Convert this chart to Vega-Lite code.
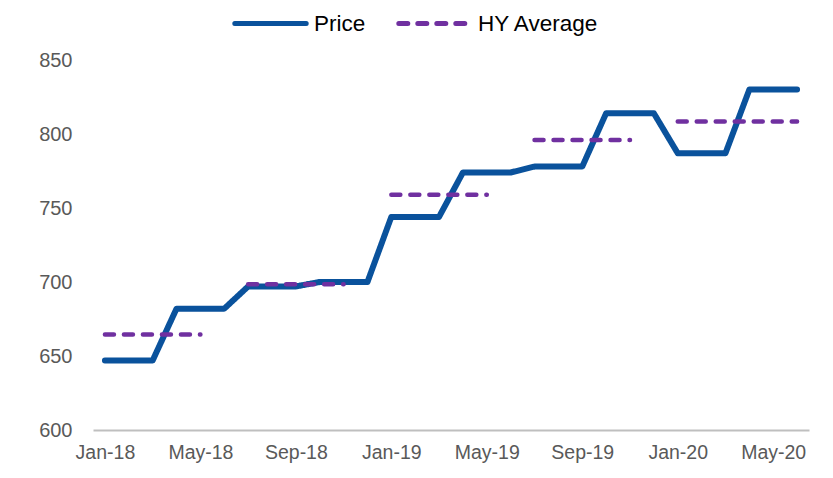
{
  "$schema": "https://vega.github.io/schema/vega-lite/v6.json",
  "width": 716,
  "height": 370,
  "autosize": {"type": "none"},
  "padding": {"left": 93, "top": 60, "right": 24, "bottom": 48},
  "background": "white",
  "config": {
    "view": {"stroke": null},
    "font": "Liberation Sans"
  },
  "datasets": {
    "price": [
      {"month": "Jan-18", "series": "Price", "value": 647},
      {"month": "Feb-18", "series": "Price", "value": 647},
      {"month": "Mar-18", "series": "Price", "value": 647},
      {"month": "Apr-18", "series": "Price", "value": 682},
      {"month": "May-18", "series": "Price", "value": 682},
      {"month": "Jun-18", "series": "Price", "value": 682},
      {"month": "Jul-18", "series": "Price", "value": 697},
      {"month": "Aug-18", "series": "Price", "value": 697},
      {"month": "Sep-18", "series": "Price", "value": 697},
      {"month": "Oct-18", "series": "Price", "value": 700},
      {"month": "Nov-18", "series": "Price", "value": 700},
      {"month": "Dec-18", "series": "Price", "value": 700},
      {"month": "Jan-19", "series": "Price", "value": 744},
      {"month": "Feb-19", "series": "Price", "value": 744},
      {"month": "Mar-19", "series": "Price", "value": 744},
      {"month": "Apr-19", "series": "Price", "value": 774},
      {"month": "May-19", "series": "Price", "value": 774},
      {"month": "Jun-19", "series": "Price", "value": 774},
      {"month": "Jul-19", "series": "Price", "value": 778},
      {"month": "Aug-19", "series": "Price", "value": 778},
      {"month": "Sep-19", "series": "Price", "value": 778},
      {"month": "Oct-19", "series": "Price", "value": 814},
      {"month": "Nov-19", "series": "Price", "value": 814},
      {"month": "Dec-19", "series": "Price", "value": 814},
      {"month": "Jan-20", "series": "Price", "value": 787},
      {"month": "Feb-20", "series": "Price", "value": 787},
      {"month": "Mar-20", "series": "Price", "value": 787},
      {"month": "Apr-20", "series": "Price", "value": 830},
      {"month": "May-20", "series": "Price", "value": 830},
      {"month": "Jun-20", "series": "Price", "value": 830}
    ],
    "hy": [
      {"month": "Jan-18", "series": "HY Average", "half": "H1-18", "value": 664.5},
      {"month": "Feb-18", "series": "HY Average", "half": "H1-18", "value": 664.5},
      {"month": "Mar-18", "series": "HY Average", "half": "H1-18", "value": 664.5},
      {"month": "Apr-18", "series": "HY Average", "half": "H1-18", "value": 664.5},
      {"month": "May-18", "series": "HY Average", "half": "H1-18", "value": 664.5},
      {"month": "Jul-18", "series": "HY Average", "half": "H2-18", "value": 698.5},
      {"month": "Aug-18", "series": "HY Average", "half": "H2-18", "value": 698.5},
      {"month": "Sep-18", "series": "HY Average", "half": "H2-18", "value": 698.5},
      {"month": "Oct-18", "series": "HY Average", "half": "H2-18", "value": 698.5},
      {"month": "Nov-18", "series": "HY Average", "half": "H2-18", "value": 698.5},
      {"month": "Jan-19", "series": "HY Average", "half": "H1-19", "value": 759},
      {"month": "Feb-19", "series": "HY Average", "half": "H1-19", "value": 759},
      {"month": "Mar-19", "series": "HY Average", "half": "H1-19", "value": 759},
      {"month": "Apr-19", "series": "HY Average", "half": "H1-19", "value": 759},
      {"month": "May-19", "series": "HY Average", "half": "H1-19", "value": 759},
      {"month": "Jul-19", "series": "HY Average", "half": "H2-19", "value": 796},
      {"month": "Aug-19", "series": "HY Average", "half": "H2-19", "value": 796},
      {"month": "Sep-19", "series": "HY Average", "half": "H2-19", "value": 796},
      {"month": "Oct-19", "series": "HY Average", "half": "H2-19", "value": 796},
      {"month": "Nov-19", "series": "HY Average", "half": "H2-19", "value": 796},
      {"month": "Jan-20", "series": "HY Average", "half": "H1-20", "value": 808.5},
      {"month": "Feb-20", "series": "HY Average", "half": "H1-20", "value": 808.5},
      {"month": "Mar-20", "series": "HY Average", "half": "H1-20", "value": 808.5},
      {"month": "Apr-20", "series": "HY Average", "half": "H1-20", "value": 808.5},
      {"month": "May-20", "series": "HY Average", "half": "H1-20", "value": 808.5},
      {"month": "Jun-20", "series": "HY Average", "half": "H1-20", "value": 808.5}
    ]
  },
  "encoding": {
    "x": {
      "field": "month",
      "type": "ordinal",
      "sort": null,
      "scale": {
        "type": "point",
        "padding": 0.5,
        "domain": ["Jan-18","Feb-18","Mar-18","Apr-18","May-18","Jun-18","Jul-18","Aug-18","Sep-18","Oct-18","Nov-18","Dec-18","Jan-19","Feb-19","Mar-19","Apr-19","May-19","Jun-19","Jul-19","Aug-19","Sep-19","Oct-19","Nov-19","Dec-19","Jan-20","Feb-20","Mar-20","Apr-20","May-20","Jun-20"]
      },
      "axis": {
        "title": null,
        "values": ["Jan-18","May-18","Sep-18","Jan-19","May-19","Sep-19","Jan-20","May-20"],
        "labelAngle": 0,
        "ticks": false,
        "grid": false,
        "domainColor": "#BFBFBF",
        "domainWidth": 2,
        "labelFontSize": 19.5,
        "labelColor": "#595959",
        "labelPadding": 13
      }
    },
    "y": {
      "field": "value",
      "type": "quantitative",
      "scale": {"domain": [600, 850], "nice": false, "zero": false},
      "axis": {
        "title": null,
        "values": [600, 650, 700, 750, 800, 850],
        "ticks": false,
        "grid": false,
        "domain": false,
        "labelFontSize": 20,
        "labelColor": "#595959",
        "labelPadding": 21
      }
    },
    "color": {
      "field": "series",
      "type": "nominal",
      "scale": {"domain": ["Price", "HY Average"], "range": ["#0A529C", "#7030A0"]},
      "legend": {
        "title": null,
        "orient": "none",
        "legendX": 139,
        "legendY": -75,
        "direction": "horizontal",
        "symbolType": "stroke",
        "symbolSize": 5100,
        "symbolStrokeWidth": 5,
        "labelFontSize": 22.5,
        "labelColor": "#000000",
        "labelOffset": 5,
        "columnPadding": 22,
        "encode": {"symbols": {"update": {"strokeCap": {"value": "round"}}}}
      }
    },
    "strokeDash": {
      "field": "series",
      "type": "nominal",
      "scale": {"domain": ["Price", "HY Average"], "range": [[1, 0], [9, 10]]},
      "legend": null
    }
  },
  "layer": [
    {
      "data": {"name": "price"},
      "mark": {"type": "line", "strokeWidth": 6, "strokeCap": "round", "strokeJoin": "round"}
    },
    {
      "data": {"name": "hy"},
      "mark": {"type": "line", "strokeWidth": 4.5, "strokeCap": "round"},
      "encoding": {"detail": {"field": "half", "type": "nominal"}}
    }
  ]
}
